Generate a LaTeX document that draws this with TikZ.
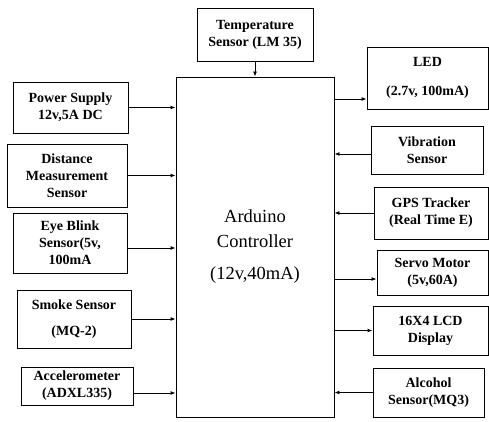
\documentclass[tikz,border=0pt]{standalone}
\usepackage{fontspec}
\setmainfont{Liberation Serif}
\usetikzlibrary{arrows.meta}

\tikzset{
  blk/.style={draw, line width=0.9pt, align=center, inner sep=0pt,
    font=\fontsize{14}{17}\selectfont\bfseries},
  arr/.style={-{Latex[length=5pt,width=4pt]}, line width=0.9pt},
}

\begin{document}
\begin{tikzpicture}[x=1pt,y=-1pt]
\useasboundingbox (0,0) rectangle (489,422);

% controller
\node [draw, line width=0.9pt, align=center, minimum width=158pt, minimum height=340pt,
  font=\fontsize{18.5}{25}\selectfont] (ctrl) at (255,247) {Arduino\\Controller\\[7pt](12v,40mA)};

\node [blk, minimum width=116pt, minimum height=53pt] (temp) at (255,34.5) {Temperature\\Sensor (LM 35)};
\draw[arr] (temp.south) -- (ctrl.north);

% inputs on the left
\node [blk, minimum width=115pt, minimum height=51pt] (power) at (70.5,107.5) {Power Supply\\12v,5A DC};
\node [blk, minimum width=120pt, minimum height=63pt] (dist) at (67,175.5) {Distance\\Measurement\\Sensor};
\node [blk, minimum width=114pt, minimum height=60pt] (eye) at (70,243) {Eye Blink\\Sensor(5v,\\100mA};
\node [blk, minimum width=114pt, minimum height=58pt] (smoke) at (74,319) {Smoke Sensor\\[9pt](MQ-2)};
\node [blk, minimum width=112pt, minimum height=38pt] (accel) at (77,386) {Accelerometer\\(ADXL335)};

\coordinate (eyeout) at ([yshift=-5pt]eye.east);
\coordinate (accelout) at ([yshift=-7pt]accel.east);

\draw[arr] (power.east) -- (power.east -| ctrl.west);
\draw[arr] (dist.east) -- (dist.east -| ctrl.west);
\draw[arr] (eyeout) -- (eyeout -| ctrl.west);
\draw[arr] (smoke.east) -- (smoke.east -| ctrl.west);
\draw[arr] (accelout) -- (accelout -| ctrl.west);

% right side
\node [blk, minimum width=121pt, minimum height=62pt] (led) at (427.5,78) {LED\\[12pt](2.7v, 100mA)};
\node [blk, minimum width=112pt, minimum height=48pt] (vib) at (427,150) {Vibration\\Sensor};
\node [blk, minimum width=114pt, minimum height=52pt] (gps) at (431,213) {GPS Tracker\\(Real Time E)};
\node [blk, minimum width=111pt, minimum height=45pt] (servo) at (432.5,272.5) {Servo Motor\\(5v,60A)};
\node [blk, minimum width=115pt, minimum height=49pt] (lcd) at (430.5,330.5) {16X4 LCD\\Display};
\node [blk, minimum width=111pt, minimum height=49pt] (alc) at (428.5,392.5) {Alcohol\\Sensor(MQ3)};

\coordinate (ledin) at ([yshift=-21pt]led.west);
\coordinate (vibout) at ([yshift=-4pt]vib.west);
\coordinate (servoin) at ([yshift=-6.5pt]servo.west);

\draw[arr] (ledin -| ctrl.east) -- (ledin);
\draw[arr] (vibout) -- (vibout -| ctrl.east);
\draw[arr] (gps.west) -- (gps.west -| ctrl.east);
\draw[arr] (servoin -| ctrl.east) -- (servoin);
\draw[arr] (lcd.west -| ctrl.east) -- (lcd.west);
\draw[arr] (alc.west) -- (alc.west -| ctrl.east);

\end{tikzpicture}
\end{document}
